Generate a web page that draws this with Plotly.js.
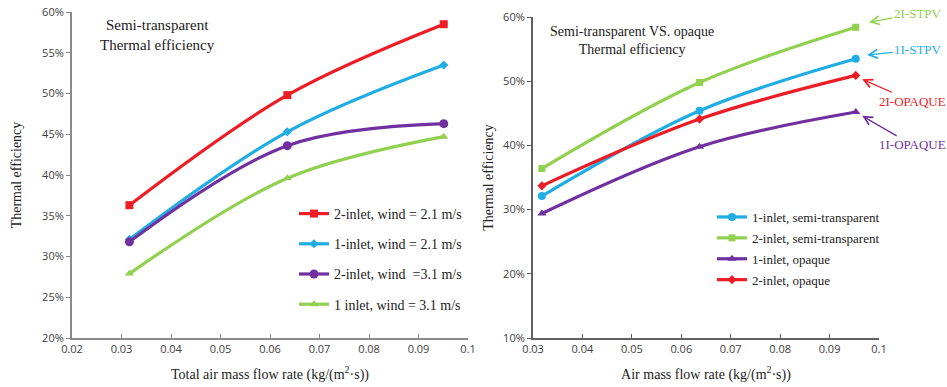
<!DOCTYPE html>
<html>
<head>
<meta charset="utf-8">
<script src="https://cdn.plot.ly/plotly-3.0.1.min.js"></script>
<style>html,body{margin:0;padding:0;background:#fff;}#chart{width:947px;height:387px;}</style>
</head>
<body>
<div id="chart"></div>
<script>
// ---- Data ----
const flowLeft = [0.0316, 0.0635, 0.0951];
const flowRight = [0.0318, 0.0637, 0.0953];

// Left chart: semi-transparent thermal efficiency (%)
const leftNames = ["2-inlet, wind = 2.1 m/s", "1-inlet, wind = 2.1 m/s", "2-inlet, wind  =3.1 m/s", "1 inlet, wind = 3.1 m/s"];
const left2in21 = [36.3, 49.8, 58.5];
const left1in21 = [32.1, 45.3, 53.5];
const left2in31 = [31.8, 43.6, 46.3];
const left1in31 = [27.9, 39.6, 44.7];

// Right chart: semi-transparent vs opaque (%)
const rightNames = ["1-inlet, semi-transparent", "2-inlet, semi-transparent", "1-inlet, opaque", "2-inlet, opaque"];
const right1inST = [32.1, 45.4, 53.5];
const right2inST = [36.4, 49.8, 58.4];
const right1inOP = [29.4, 39.8, 45.2];
const right2inOP = [33.7, 44.1, 50.9];

const rightLabels = ["2I-STPV", "1I-STPV", "2I-OPAQUE", "1I-OPAQUE"];

// ---- Styles ----
const RED = "#EE1C25", BLUE = "#1FADE4", PURPLE = "#7030A0", GREEN = "#92D050";
const SERIF = "'Liberation Serif', 'Times New Roman', serif";
const SANS = "'Open Sans', Arial, sans-serif";

function tr(x, y, name, color, symbol, xa, ya, legend, grp, msize) {
  return {
    x: x, y: y, name: name, type: "scatter", mode: "lines+markers",
    xaxis: xa, yaxis: ya, legend: legend, legendgroup: grp,
    line: {color: color, width: 3.2, shape: "spline", smoothing: 1},
    marker: {color: color, symbol: symbol, size: msize || 8}
  };
}

const data = [
  tr(flowLeft, left2in21, leftNames[0], RED, "square", "x", "y", "legend", "a", 8),
  tr(flowLeft, left1in21, leftNames[1], BLUE, "diamond", "x", "y", "legend", "b", 7),
  tr(flowLeft, left2in31, leftNames[2], PURPLE, "circle", "x", "y", "legend", "c", 9),
  tr(flowLeft, left1in31, leftNames[3], GREEN, "triangle-up", "x", "y", "legend", "d", 8),
  tr(flowRight, right1inST, rightNames[0], BLUE, "circle", "x2", "y2", "legend2", "e", 8),
  tr(flowRight, right2inST, rightNames[1], GREEN, "square", "x2", "y2", "legend2", "f", 7),
  tr(flowRight, right1inOP, rightNames[2], PURPLE, "triangle-up", "x2", "y2", "legend2", "g", 8),
  tr(flowRight, right2inOP, rightNames[3], RED, "diamond", "x2", "y2", "legend2", "h", 7)
];

const tickFont = {family: SANS, size: 11, color: "#404040"};
const titleFont = {family: SERIF, size: 14, color: "#222"};

function xAxis(range, domain, anchor, title, lc) {
  return {
    domain: domain, anchor: anchor, range: range, dtick: 0.01, tick0: 0,
    showgrid: false, zeroline: false, showline: true, linecolor: lc, linewidth: 2,
    ticks: "inside", ticklen: 4, tickcolor: lc, tickwidth: 1,
    tickfont: tickFont, title: {text: title, font: titleFont, standoff: 14}
  };
}
function yAxis(range, dtick, domain, anchor, lc, standoff) {
  return {
    domain: domain, anchor: anchor, range: range, dtick: dtick, ticksuffix: "%",
    showgrid: false, zeroline: false, showline: true, linecolor: lc, linewidth: 2,
    ticks: "outside", ticklen: 4, tickcolor: lc, tickwidth: 1,
    tickfont: tickFont, title: {text: "Thermal efficiency", font: titleFont, standoff: standoff}
  };
}

const annFont = (c, s) => ({family: SERIF, size: s || 13, color: c});
function arrowAnn(x, y, text, color, ax, ay) {
  return {xref: "x2", yref: "y2", x: x, y: y, text: text, showarrow: true,
    ax: ax, ay: ay, arrowhead: 5, arrowsize: 1.3, arrowwidth: 1.3, arrowcolor: color,
    xanchor: "center", yanchor: "middle", font: annFont(color, 13)};
}

const layout = {
  width: 947, height: 387,
  margin: {l: 0, r: 0, t: 0, b: 0},
  paper_bgcolor: "#fff", plot_bgcolor: "#fff",
  showlegend: true,
  xaxis: xAxis([0.02, 0.1], [72/947, 468/947], "y", "Total air mass flow rate (kg/(m<sup>2</sup>·s))", "#8a8a8a"),
  yaxis: yAxis([20, 60], 5, [1 - 338/387, 1 - 12/387], "x", "#8a8a8a", 17),
  xaxis2: xAxis([0.03, 0.1], [533/947, 879/947], "y2", "Air mass flow rate (kg/(m<sup>2</sup>·s))", "#606060"),
  yaxis2: yAxis([10, 60], 10, [1 - 338/387, 1 - 17/387], "x2", "#606060", 6),
  legend: {x: 294/947, y: 1 - 198/387, xanchor: "left", yanchor: "top",
    bgcolor: "rgba(0,0,0,0)", font: {family: SERIF, size: 14, color: "#222"},
    tracegroupgap: 9, traceorder: "grouped"},
  legend2: {x: 712/947, y: 1 - 202/387, xanchor: "left", yanchor: "top",
    bgcolor: "rgba(0,0,0,0)", font: {family: SERIF, size: 13, color: "#222"},
    tracegroupgap: 1, traceorder: "grouped"},
  annotations: [
    {xref: "paper", yref: "paper", x: 157/947, y: 1 - 35/387, xanchor: "center", yanchor: "middle",
      text: "Semi-transparent<br>Thermal efficiency",
      showarrow: false, font: annFont("#222", 15), align: "center"},
    {xref: "paper", yref: "paper", x: 632/947, y: 1 - 40/387, xanchor: "center", yanchor: "middle",
      text: "Semi-transparent VS. opaque<br>Thermal efficiency",
      showarrow: false, font: annFont("#222", 14), align: "center"},
    arrowAnn(0.0980, 59.2, rightLabels[0], GREEN, 49, -9),
    arrowAnn(0.0976, 54.1, rightLabels[1], BLUE, 51, -5),
    arrowAnn(0.0966, 50.3, rightLabels[2], RED, 50, 22),
    arrowAnn(0.0966, 44.6, rightLabels[3], PURPLE, 50, 29)
  ]
};

Plotly.newPlot("chart", data, layout, {displayModeBar: false, staticPlot: true});
</script>
</body>
</html>
